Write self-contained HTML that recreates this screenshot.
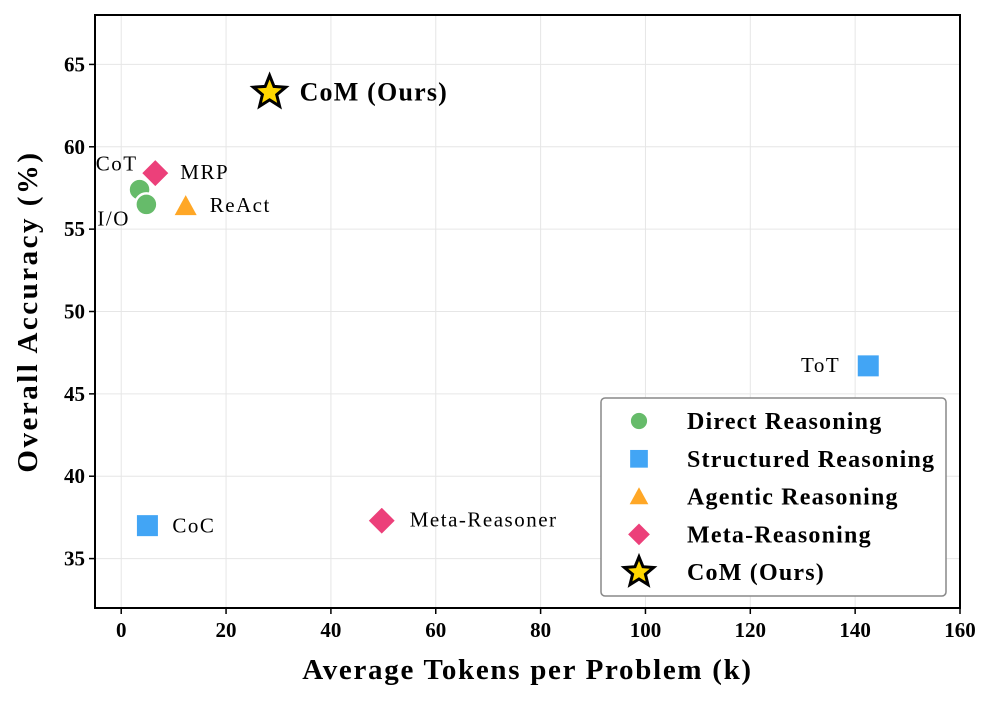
<!DOCTYPE html>
<html><head><meta charset="utf-8"><style>
body{margin:0;background:#fff}
svg{display:block;font-family:"Liberation Serif",serif}
</style></head><body>
<svg id="chart" width="996" height="701" viewBox="0 0 996 701" xmlns="http://www.w3.org/2000/svg">
<g id="grid"></g>
<g id="axes"></g>
<g id="marks"></g>
<g id="labels"></g>
<g id="legend"></g>
</svg>
<script>
const methods = ["CoT","I/O","MRP","ReAct","ToT","CoC","Meta-Reasoner","CoM (Ours)"];
const tokens = [3.5,4.8,6.5,12.3,142.5,5.0,49.7,28.3];
const accuracy = [57.4,56.5,58.4,56.4,46.7,37.0,37.3,63.3];
const categories = ["direct","direct","meta","agentic","structured","structured","meta","com"];
const xTicks = [0,20,40,60,80,100,120,140,160];
const yTicks = [35,40,45,50,55,60,65];
const legendLabels = ["Direct Reasoning","Structured Reasoning","Agentic Reasoning","Meta-Reasoning","CoM (Ours)"];
const legendCats = ["direct","structured","agentic","meta","com"];

const NS="http://www.w3.org/2000/svg";
const L=95,R=960,T=15,B=608, X0=-5,X1=160,Y0=32,Y1=68;
const sx=v=>L+(v-X0)/(X1-X0)*(R-L);
const sy=v=>B-(v-Y0)/(Y1-Y0)*(B-T);
const colors={direct:"#66BB6A",structured:"#42A5F5",agentic:"#FFA726",meta:"#EC407A",com:"#FFD700"};
function el(tag,attrs,parent,text){const e=document.createElementNS(NS,tag);for(const k in attrs)e.setAttribute(k,attrs[k]);if(text!==undefined)e.textContent=text;parent.appendChild(e);return e;}
const grid=document.getElementById('grid'),axes=document.getElementById('axes'),marks=document.getElementById('marks'),labels=document.getElementById('labels'),legend=document.getElementById('legend');

xTicks.forEach(t=>{const x=sx(t);
 const g=el('line',{x1:x,x2:x,y1:T,y2:B,stroke:"#e6e6e6","stroke-width":1},grid);
 
 el('line',{x1:x,x2:x,y1:B,y2:B+6,stroke:"#000","stroke-width":1.5},axes);
 const tl=el('text',{x:x,y:B+29,"text-anchor":"middle","font-size":21,"font-weight":"bold"},axes,t);
 });
yTicks.forEach(t=>{const y=sy(t);
 const g=el('line',{x1:L,x2:R,y1:y,y2:y,stroke:"#e6e6e6","stroke-width":1},grid);
 
 el('line',{x1:L-6,x2:L,y1:y,y2:y,stroke:"#000","stroke-width":1.5},axes);
 const tl=el('text',{x:L-10,y:y+7,"text-anchor":"end","font-size":21,"font-weight":"bold"},axes,t);
 });
const frame=el('rect',{x:L,y:T,width:R-L,height:B-T,fill:"none",stroke:"#000","stroke-width":2},axes);

const xt=el('text',{x:(L+R)/2,y:679,"text-anchor":"middle","font-size":29,"font-weight":"bold","letter-spacing":1.7},axes,"Average Tokens per Problem (k)");

const yt=el('text',{x:0,y:0,"text-anchor":"middle","font-size":29,"font-weight":"bold","letter-spacing":2.5,transform:`translate(37,${(T+B)/2}) rotate(-90)`},axes,"Overall Accuracy (%)");


function starPts(cx,cy,ro,ri){let p=[];for(let i=0;i<10;i++){const a=-Math.PI/2+i*Math.PI/5,r=i%2?ri:ro;p.push((cx+r*Math.cos(a)).toFixed(1)+","+(cy+r*Math.sin(a)).toFixed(1));}return p.join(" ");}
function marker(cat,cx,cy,parent,s){
 const c=colors[cat];
 if(cat==="direct")return el('circle',{cx,cy,r:11*s,fill:c,stroke:"#fff","stroke-width":2.5},parent);
 if(cat==="structured")return el('rect',{x:cx-11*s,y:cy-11*s,width:22*s,height:22*s,fill:c,stroke:"#fff","stroke-width":1},parent);
 if(cat==="agentic")return el('polygon',{points:`${cx},${cy-11*s} ${cx+11*s},${cy+9*s} ${cx-11*s},${cy+9*s}`,fill:c},parent);
 if(cat==="meta")return el('polygon',{points:`${cx},${cy-14*s} ${cx+14*s},${cy} ${cx},${cy+14*s} ${cx-14*s},${cy}`,fill:c,stroke:"#fff","stroke-width":1.5},parent);
 return el('polygon',{points:starPts(cx,cy,17*s,7.5*s),fill:c,stroke:"#000","stroke-width":3,"stroke-linejoin":"miter"},parent);
}
const labelPos={"CoT":[-2,-19,"end"],"I/O":[-49,21,"start"],"MRP":[25,6,"start"],"ReAct":[24,6,"start"],"ToT":[-28,6,"end"],"CoC":[25,7,"start"],"Meta-Reasoner":[28,6,"start"],"CoM (Ours)":[30,8,"start"]};
methods.forEach((m,i)=>{const cx=sx(tokens[i]),cy=sy(accuracy[i]);
 const mk=marker(categories[i],cx,cy,marks,1);
 
 
 const lp=labelPos[m];const bold=categories[i]==="com";
 const t=el('text',{x:cx+lp[0],y:cy+lp[1],"text-anchor":lp[2],"font-size":bold?26:21,"font-weight":bold?"bold":"normal","letter-spacing":bold?1.2:1.5},labels,m);
 });

const lb=el('rect',{x:601,y:398,width:345,height:198,rx:4,fill:"#fff",stroke:"#888","stroke-width":1.5},legend);

legendLabels.forEach((n,i)=>{const y=421+i*37.8;
 const g=el('g',{},legend);
 marker(legendCats[i],639,y,g,legendCats[i]==="com"?0.9:(legendCats[i]==="meta"?0.85:0.85));
 el('text',{x:687,y:y+8,"font-size":24,"font-weight":"bold","letter-spacing":1.2},g,n);});
</script>
</body></html>
